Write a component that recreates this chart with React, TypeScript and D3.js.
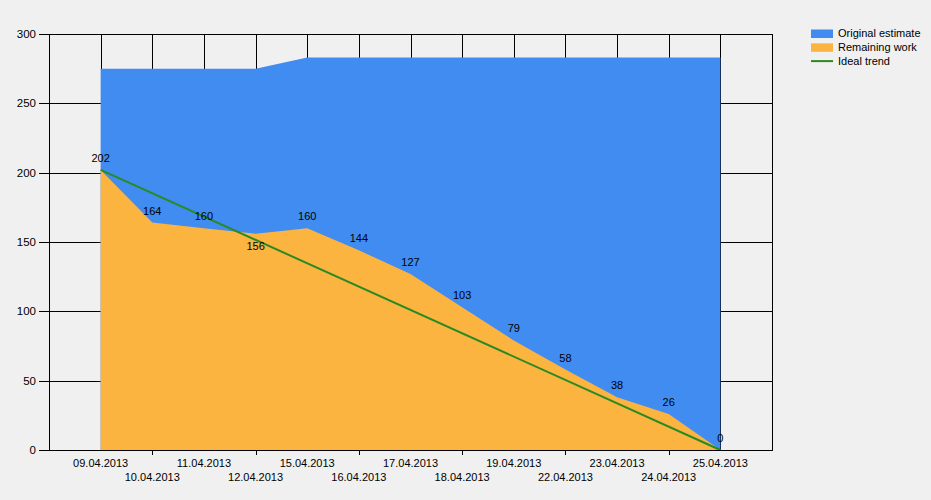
import React from "react";
import * as d3 from "d3";

const categories = [
  "09.04.2013", "10.04.2013", "11.04.2013", "12.04.2013", "15.04.2013",
  "16.04.2013", "17.04.2013", "18.04.2013", "19.04.2013", "22.04.2013",
  "23.04.2013", "24.04.2013", "25.04.2013",
];
const originalEstimate = [275, 275, 275, 275, 283, 283, 283, 283, 283, 283, 283, 283, 283];
const remainingWork = [202, 164, 160, 156, 160, 144, 127, 103, 79, 58, 38, 26, 0];
const idealTrend = [202, 0]; // start (first category) and end (last category)
const labelBelow = [false, false, false, true, false, false, false, false, false, false, false, false, false];
const yTicks = [0, 50, 100, 150, 200, 250, 300];
const legendItems = ["Original estimate", "Remaining work", "Ideal trend"];

const W = 931;
const H = 500;
const L = 49, R = 772, T = 34, B = 450;
const FONT = "'Liberation Sans', Arial, sans-serif";
const BLUE = "#418CF0";
const ORANGE = "#FCB441";
const GREEN = "#2A8A22";

export default function App() {
  const n = categories.length;
  const x = d3.scaleLinear().domain([-1, n]).range([L, R]);
  const y = d3.scaleLinear().domain([0, 300]).range([B, T]);

  const area = d3
    .area<number>()
    .x((_, i) => x(i))
    .y0(y(0))
    .y1((d) => y(d))
    .curve(d3.curveLinear);

  const line = d3
    .line<number>()
    .x((_, i) => (i === 0 ? x(0) : x(n - 1)))
    .y((d) => y(d));

  return (
    <svg
      width={W}
      height={H}
      style={{ position: "absolute", left: 0, top: 0, display: "block" }}
      fontFamily={FONT}
    >
      <rect x={0} y={0} width={W} height={H} fill="#F0F0F0" />
      {/* grid */}
      {yTicks.map((t) => (
        <line key={"h" + t} x1={L - 10} x2={R} y1={Math.round(y(t)) + 0.5} y2={Math.round(y(t)) + 0.5} stroke="#000" />
      ))}
      {categories.map((c, i) => (
        <line key={"v" + c} x1={Math.round(x(i)) + 0.5} x2={Math.round(x(i)) + 0.5} y1={T} y2={B} stroke="#000" />
      ))}
      {/* areas */}
      <path d={area(originalEstimate) || ""} fill={BLUE} />
      <path d={area(remainingWork) || ""} fill={ORANGE} />
      <path d={line(idealTrend) || ""} fill="none" stroke={GREEN} strokeWidth={2} />
      {/* frame */}
      <rect x={L + 0.5} y={T + 0.5} width={R - L} height={B - T} fill="none" stroke="#000" />
      {/* y labels */}
      {yTicks.map((t) => (
        <text key={"yl" + t} x={36} y={y(t)} dy="0.35em" textAnchor="end" fontSize={11.5} fill="#000">
          {t}
        </text>
      ))}
      {/* x ticks & labels */}
      {categories.map((c, i) => (
        <g key={"xl" + c}>
          {i % 2 === 1 && (
            <line x1={Math.round(x(i)) + 0.5} x2={Math.round(x(i)) + 0.5} y1={B} y2={B + 5} stroke="#000" />
          )}
          <text x={x(i)} y={i % 2 === 0 ? 467 : 481} textAnchor="middle" fontSize={11} fill="#000">
            {c}
          </text>
        </g>
      ))}
      {/* data labels */}
      {remainingWork.map((v, i) => {
        const py = y(v);
        const by = labelBelow[i] ? py + 16 : Math.min(py - 8, B - 4);
        return (
          <text key={"dl" + i} x={x(i)} y={by} textAnchor="middle" fontSize={11} fill="#000">
            {v}
          </text>
        );
      })}
      {/* legend */}
      {legendItems.map((name, i) => {
        const cy = 33.5 + i * 13.8;
        return (
          <g key={name}>
            {i < 2 ? (
              <rect x={811} y={cy - 4} width={22} height={8.5} fill={i === 0 ? BLUE : ORANGE} />
            ) : (
              <line x1={811} x2={833} y1={cy} y2={cy} stroke={GREEN} strokeWidth={2} />
            )}
            <text x={838} y={cy} dy="0.35em" fontSize={11} fill="#000">
              {name}
            </text>
          </g>
        );
      })}
    </svg>
  );
}
